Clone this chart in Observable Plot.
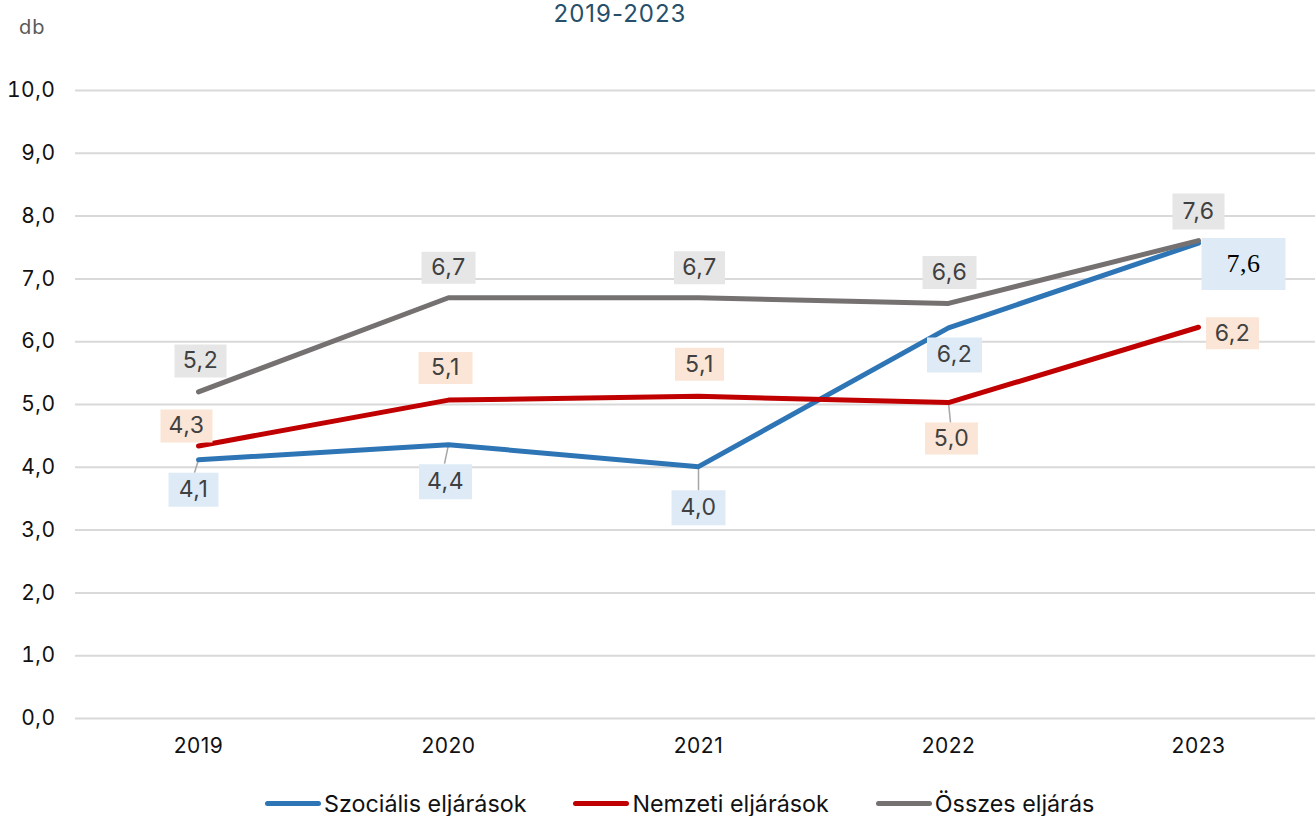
<!DOCTYPE html>
<html>
<head>
<meta charset="utf-8">
<script src="https://cdn.jsdelivr.net/npm/d3@7"></script>
<script src="https://cdn.jsdelivr.net/npm/@observablehq/plot@0.6"></script>
<style>
  html, body { margin: 0; padding: 0; background: #fff; overflow: hidden; }
  body { width: 1315px; height: 816px; position: relative; font-family: Inter, "Noto Sans", sans-serif; }
  #header { position: relative; height: 42px; }
  #title { position: absolute; left: 620px; top: 2px; transform: translateX(-50%); font-size: 24px; line-height: 24px; letter-spacing: 1px; color: #264f6b; white-space: nowrap; }
  #unit { position: absolute; left: 19px; top: 17px; font-size: 20px; line-height: 20px; letter-spacing: 1px; color: #595959; }
  #chart { position: relative; height: 738px; }
  #legend { position: relative; height: 36px; }
  #legend .items { position: absolute; left: 265px; top: 12px; display: flex; gap: 47px; align-items: center; }
  #legend .item { display: flex; align-items: center; gap: 3px; font-size: 23.3px; line-height: 23px; color: #111; white-space: nowrap; }
  #legend .sw { width: 56px; height: 5px; border-radius: 3px; }
  svg text { letter-spacing: 0.5px; }
</style>
</head>
<body>
<div id="header"><div id="title">2019-2023</div><div id="unit">db</div></div>
<div id="chart"></div>
<div id="legend"><div class="items"></div></div>
<script>
// ---- data ----
const years = ["2019", "2020", "2021", "2022", "2023"];
const seriesNames = ["Szociális eljárások", "Nemzeti eljárások", "Összes eljárás"];
const szocialis = [4.12, 4.36, 4.01, 6.22, 7.57];
const nemzeti = [4.34, 5.07, 5.13, 5.03, 6.23];
const osszes = [5.20, 6.70, 6.70, 6.61, 7.61];
const yTicks = [0, 1, 2, 3, 4, 5, 6, 7, 8, 9, 10];

// ---- styles / layout ----
const lineColors = ["#2e75b6", "#c00000", "#767171"];
const boxColors = ["#deebf7", "#fbe5d6", "#e7e6e6"];
// label box offsets (px) relative to the data point: [dx, dy, w, h]
const labelLayout = [
  [[-5, 30, 50, 34], [-3, 37, 53, 35], [0, 41, 54, 35], [6, 27, 55, 35], [45, 21, 84, 52]],
  [[-12, -20, 52, 33], [-3, -32, 54, 32], [1, -32, 49, 33], [3, 36, 53, 32], [34, 6, 53, 32]],
  [[2, -31, 52, 33], [0, -30, 54, 32], [1, -30, 51, 33], [1, -31, 54, 33], [0, -29, 52, 36]]
];
// leader lines from point: [lx, ly] or null
const leaders = [
  [[-4, 13], [-4, 19], [0, 24], null, null],
  [null, null, null, [2, 20], null],
  [null, null, null, null, null]
];

const seriesValues = [szocialis, nemzeti, osszes];
const table = seriesNames.flatMap((s, si) => years.map((yr, i) => ({series: s, year: yr, value: seriesValues[si][i], si, i})));
const fmt = d => d.toFixed(1).replace(".", ",");

const boxSymbol = (dx, dy, w, h) => ({draw(ctx) { ctx.rect(dx - w / 2, dy - h / 2, w, h); }});
const leaderSymbol = (lx, ly) => ({draw(ctx) { ctx.moveTo(0, 0); ctx.lineTo(lx, ly); }});

const leaderMarks = [], boxMarks = [], textMarks = [];
table.forEach(d => {
  const [dx, dy, w, h] = labelLayout[d.si][d.i];
  const ld = leaders[d.si][d.i];
  if (ld) leaderMarks.push(Plot.dot([d], {x: "year", y: "value", r: 5, symbol: leaderSymbol(ld[0], ld[1]), fill: "none", stroke: "#a6a6a6", strokeWidth: 1.5}));
  boxMarks.push(Plot.dot([d], {x: "year", y: "value", r: 5, symbol: boxSymbol(dx, dy, w, h), fill: boxColors[d.si], stroke: "none"}));
  const special = d.si === 0 && d.i === 4;
  textMarks.push(Plot.text([d], {
    x: "year", y: "value", text: v => fmt(v.value), dx, dy,
    fontSize: special ? 26 : 23,
    fontFamily: special ? "Liberation Serif, serif" : "Inter, sans-serif",
    fill: special ? "#000" : "#404040"
  }));
});

const chart = Plot.plot({
  width: 1315,
  height: 738,
  marginTop: 48,
  marginBottom: 62,
  marginLeft: 75,
  marginRight: 0,
  style: {fontFamily: "Inter, sans-serif", color: "#111", background: "#fff", overflow: "visible"},
  x: {type: "point", domain: years, range: [198, 1198], padding: 0},
  y: {domain: [0, 10]},
  color: {domain: seriesNames, range: lineColors},
  marks: [
    Plot.ruleY(yTicks, {stroke: "#d9d9d9", strokeWidth: 2}),
    Plot.axisY(yTicks, {tickSize: 0, tickPadding: 20, tickFormat: fmt, fontSize: 21, label: null}),
    Plot.axisX({tickSize: 0, tickPadding: 20, fontSize: 21, label: null}),
    ...leaderMarks,
    Plot.line(table, {x: "year", y: "value", z: "series", stroke: "series", strokeWidth: 5, strokeLinecap: "round", strokeLinejoin: "round"}),
    ...boxMarks,
    ...textMarks
  ]
});
document.getElementById("chart").appendChild(chart);

const items = document.querySelector("#legend .items");
seriesNames.forEach((s, i) => {
  const it = document.createElement("div");
  it.className = "item";
  const sw = document.createElement("div");
  sw.className = "sw";
  sw.style.background = lineColors[i];
  const t = document.createElement("span");
  t.textContent = s;
  it.appendChild(sw); it.appendChild(t);
  items.appendChild(it);
});
</script>
</body>
</html>
